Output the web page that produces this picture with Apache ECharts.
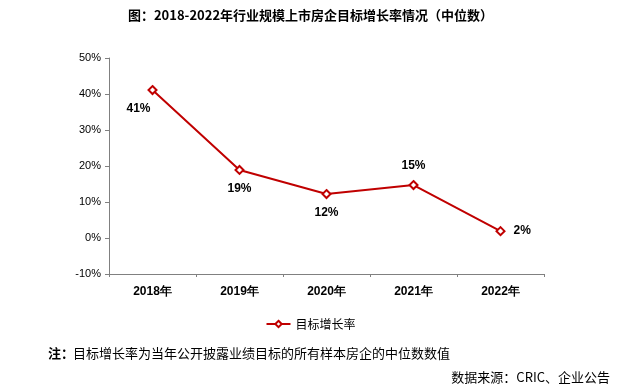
<!DOCTYPE html>
<html><head><meta charset="utf-8">
<script src="https://cdn.jsdelivr.net/npm/echarts@6/dist/echarts.min.js"></script>
<style>html,body{margin:0;padding:0;background:#fff}#c{width:621px;height:392px}</style>
</head><body><div id="c"></div>
<script>
const categories = ['2018年','2019年','2020年','2021年','2022年'];
const growth = [41.1, 18.9, 12.2, 14.7, 1.9];
const labelText = ['41%','19%','12%','15%','2%'];
const labelPos = ['bottom','bottom','bottom','top','right'];
const yTicks = {min:-10, max:50, interval:10};

const chart = echarts.init(document.getElementById('c'));
const cjk = '"Noto Sans CJK SC", sans-serif';
chart.setOption({
  animation:false,
  title:{text:'图：2018-2022年行业规模上市房企目标增长率情况（中位数）', left:'center', top:4,
    textStyle:{fontFamily:cjk, fontSize:13, fontWeight:'bold', color:'#000'}},
  grid:{left:109, right:77, top:58, bottom:118},
  legend:{data:['目标增长率'], top:313, left:'center', itemWidth:24, itemHeight:8,
    textStyle:{fontFamily:cjk, fontSize:12, color:'#000'}},
  xAxis:{type:'category', data:categories, boundaryGap:true,
    axisLine:{onZero:false, lineStyle:{color:'#808080'}},
    axisTick:{show:true, length:3, alignWithLabel:false, lineStyle:{color:'#808080'}},
    axisLabel:{color:'#000', fontWeight:'bold', fontSize:12, fontFamily:'"Liberation Sans", Arial, sans-serif', margin:12}},
  yAxis:{type:'value', min:yTicks.min, max:yTicks.max, interval:yTicks.interval,
    axisLine:{show:true, lineStyle:{color:'#808080'}}, axisTick:{show:true, length:4, lineStyle:{color:'#808080'}},
    splitLine:{show:false},
    axisLabel:{formatter:'{value}%', color:'#000', fontSize:11, fontFamily:'"Liberation Sans", Arial, sans-serif', margin:8}},
  graphic:[
    {type:'text', left:48, top:347, style:{text:'注：', font:'bold 13px "Noto Sans CJK SC"', fill:'#000'}},
    {type:'text', left:73, top:347, style:{text:'目标增长率为当年公开披露业绩目标的所有样本房企的中位数数值', font:'13px "Noto Sans CJK SC"', fill:'#000'}},
    {type:'text', right:11, top:371, style:{text:'数据来源：CRIC、企业公告', font:'13px "Noto Sans CJK SC"', fill:'#000'}}
  ],
  series:[{
    name:'目标增长率', type:'line',
    data:growth.map((v,i)=>({value:v, label:{position:labelPos[i], offset: i===0 ? [-14,0] : [0,0]}})),
    symbol:'diamond', symbolSize:8, showAllSymbol:true,
    lineStyle:{color:'#C00000', width:2},
    itemStyle:{color:'#fff', borderColor:'#C00000', borderWidth:2},
    label:{show:true, formatter:p=>labelText[p.dataIndex], fontWeight:'bold', fontSize:12, color:'#000',
      fontFamily:'"Liberation Sans", Arial, sans-serif', distance:8}
  }]
});
</script></body></html>
